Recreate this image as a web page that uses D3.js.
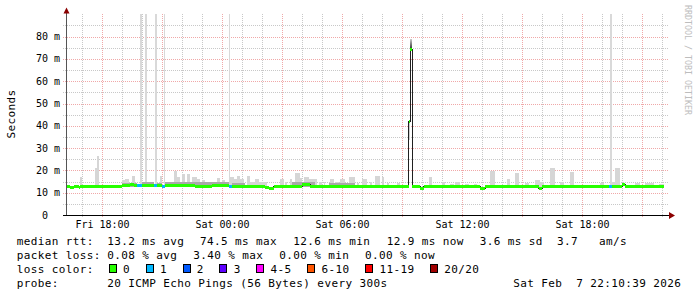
<!DOCTYPE html>
<html>
<head>
<meta charset="utf-8">
<script src="https://cdn.jsdelivr.net/npm/d3@7"></script>
<style>
  html, body { margin: 0; padding: 0; background: #fff; }
  svg { display: block; }
  text { font-family: "DejaVu Sans Mono", monospace; white-space: pre; }
</style>
</head>
<body>
<script>
// ---------- data (times are Fri 6 / Sat 7 Feb 2026, rtt in ms) ----------
const timeStart = "Fri 16:15"
const timeEnd = "Sat 22:15"
const dataEnd = "Sat 22:05"
const yMax = 90.6
const yMajor = [0, 10, 20, 30, 40, 50, 60, 70, 80]
const yMinor = [5, 15, 25, 35, 45, 55, 65, 75, 85]
const xLabels = ["Fri 18:00", "Sat 00:00", "Sat 06:00", "Sat 12:00", "Sat 18:00"]

// median rtt, step value holds until next entry
const medianSteps = [
  ["Fri 16:15", 12.9], ["Fri 16:25", 12.4], ["Fri 16:35", 12.9], ["Fri 16:50", 12.4], ["Fri 16:55", 12.9],
  ["Fri 19:00", 13.4], ["Fri 19:25", 13.9], ["Fri 19:35", 13.4], ["Fri 19:45", 13.6], ["Fri 20:00", 13.3],
  ["Fri 20:35", 13.6], ["Fri 20:45", 13.3], ["Fri 21:00", 13.0], ["Fri 21:10", 13.4], ["Fri 22:40", 13.2],
  ["Fri 23:30", 13.4], ["Sat 00:20", 13.0], ["Sat 00:30", 13.2], ["Sat 01:15", 13.0], ["Sat 02:10", 12.6],
  ["Sat 02:20", 12.2], ["Sat 02:35", 13.0], ["Sat 04:00", 14.1], ["Sat 04:10", 13.7], ["Sat 04:25", 12.8],
  ["Sat 07:30", 12.9], ["Sat 09:20", 42.0], ["Sat 09:25", 74.5], ["Sat 09:30", 12.9], ["Sat 09:55", 12.1],
  ["Sat 10:05", 12.8], ["Sat 12:55", 12.2], ["Sat 13:10", 12.8], ["Sat 15:50", 12.2], ["Sat 16:00", 12.8],
  ["Sat 20:00", 13.9], ["Sat 20:10", 12.9]
]

// periods with lost pings [from, to, lost count]
const lossRanges = [
  ["Fri 19:45", "Fri 20:00", 1], ["Fri 20:35", "Fri 20:45", 1], ["Fri 21:00", "Fri 21:10", 1],
  ["Sat 00:20", "Sat 00:30", 1], ["Sat 19:20", "Sat 19:30", 1]
]

// outer smoke (highest ping) [from, to, ms]
const smokeBars = [
  ["Fri 16:55", "Fri 17:00", 16.9], ["Fri 17:40", "Fri 17:45", 21.0], ["Fri 17:45", "Fri 17:50", 26.5],
  ["Fri 19:00", "Fri 19:10", 15.7], ["Fri 19:10", "Fri 19:20", 16.0], ["Fri 19:30", "Fri 19:40", 17.5],
  ["Fri 20:55", "Fri 21:00", 17.5], ["Fri 21:35", "Fri 21:45", 19.7], ["Fri 21:45", "Fri 21:55", 16.9],
  ["Fri 22:00", "Fri 22:10", 18.2], ["Fri 22:15", "Fri 22:25", 18.6], ["Fri 22:30", "Fri 22:45", 16.9],
  ["Fri 22:45", "Fri 22:55", 16.0], ["Fri 23:00", "Fri 23:10", 15.5], ["Fri 23:15", "Fri 23:35", 15.0],
  ["Fri 23:45", "Fri 23:55", 16.4], ["Sat 00:00", "Sat 00:10", 15.5], ["Sat 00:25", "Sat 00:35", 17.0],
  ["Sat 00:35", "Sat 00:45", 16.0], ["Sat 00:45", "Sat 00:55", 17.5], ["Sat 00:55", "Sat 01:05", 16.0],
  ["Sat 01:15", "Sat 01:25", 17.5], ["Sat 01:25", "Sat 01:40", 15.0], ["Sat 01:40", "Sat 01:50", 16.0],
  ["Sat 01:50", "Sat 02:15", 15.0], ["Sat 02:55", "Sat 03:05", 16.0], ["Sat 03:10", "Sat 03:15", 15.0],
  ["Sat 03:25", "Sat 03:30", 16.3], ["Sat 03:40", "Sat 03:55", 19.0], ["Sat 03:55", "Sat 04:00", 16.8],
  ["Sat 04:05", "Sat 04:20", 17.2], ["Sat 04:20", "Sat 04:45", 16.0], ["Sat 04:50", "Sat 05:00", 15.0],
  ["Sat 05:05", "Sat 05:10", 15.0], ["Sat 05:25", "Sat 05:35", 16.0], ["Sat 05:40", "Sat 05:50", 15.0],
  ["Sat 05:55", "Sat 06:10", 16.3], ["Sat 06:20", "Sat 06:40", 17.0], ["Sat 06:45", "Sat 06:50", 14.5],
  ["Sat 07:00", "Sat 07:15", 16.3], ["Sat 07:25", "Sat 07:30", 15.0], ["Sat 07:40", "Sat 07:55", 17.5],
  ["Sat 08:00", "Sat 08:05", 17.0], ["Sat 08:15", "Sat 08:20", 14.5], ["Sat 08:45", "Sat 08:55", 14.5],
  ["Sat 10:20", "Sat 10:30", 17.0], ["Sat 11:00", "Sat 11:10", 15.0], ["Sat 11:25", "Sat 11:35", 14.0],
  ["Sat 11:40", "Sat 11:55", 15.0], ["Sat 12:10", "Sat 12:20", 14.0], ["Sat 12:35", "Sat 12:45", 14.0],
  ["Sat 13:25", "Sat 13:40", 19.9], ["Sat 14:15", "Sat 14:25", 16.0], ["Sat 14:40", "Sat 14:50", 19.0],
  ["Sat 15:10", "Sat 15:20", 14.5], ["Sat 15:40", "Sat 15:55", 15.5], ["Sat 15:55", "Sat 16:05", 14.8],
  ["Sat 16:25", "Sat 16:40", 21.0], ["Sat 16:55", "Sat 17:05", 15.0], ["Sat 17:25", "Sat 17:35", 19.5],
  ["Sat 18:55", "Sat 19:05", 14.5], ["Sat 19:25", "Sat 19:40", 15.0], ["Sat 19:40", "Sat 19:55", 21.0],
  ["Sat 20:40", "Sat 20:55", 14.5], ["Sat 21:10", "Sat 21:35", 14.5], ["Sat 21:50", "Sat 22:05", 14.0]
]

// timeouts, max ping off the scale
const smokeTall = [
  ["Fri 19:55", "Fri 20:00", 95], ["Fri 20:10", "Fri 20:15", 95], ["Fri 20:40", "Fri 20:45", 95],
  ["Fri 21:05", "Fri 21:10", 95], ["Sat 00:20", "Sat 00:25", 95], ["Sat 19:25", "Sat 19:30", 95]
]

// inner (darker) smoke just above the median
const smokeInner = [
  ["Fri 19:00", "Fri 19:45", 14.5], ["Fri 20:00", "Fri 20:35", 14.6], ["Fri 20:45", "Fri 21:00", 14.4],
  ["Fri 21:10", "Sat 00:20", 14.6], ["Sat 00:30", "Sat 01:10", 14.4], ["Sat 03:30", "Sat 04:40", 14.7],
  ["Sat 05:20", "Sat 06:40", 14.3]
]

// smoke around the 09:20 spike [from, to, low, high]
const spikeSmokeLow = [["Sat 09:20", "Sat 09:25", 33.5, 42.0]]
const spikeSmokeHigh = [["Sat 09:25", "Sat 09:30", 74.5, 79.0]]

const lossLabels = ["0", "1", "2", "3", "4-5", "6-10", "11-19", "20/20"]
const lossColors = ["#26ff00", "#00b8ff", "#0059ff", "#5e00ff", "#ff00ff", "#ff5500", "#ff0000", "#a10000"]

const rttLegend = ["median rtt:", "13.2 ms avg", "74.5 ms max", "12.6 ms min", "12.9 ms now", "3.6 ms sd", "3.7   am/s"]
const lossLegend = ["packet loss:", "0.08 % avg", "3.40 % max", "0.00 % min", "0.00 % now"]
const probeLegend = ["probe:", "20 ICMP Echo Pings (56 Bytes) every 300s", "Sat Feb  7 22:10:39 2026"]

// ---------- helpers ----------
const parse = d3.timeParse("%Y-%m-%d %H:%M")
function t(s) {
  let [day, hm] = s.split(" ")
  return parse((day === "Fri" ? "2026-02-06 " : "2026-02-07 ") + hm)
}
function medianAt(s) {
  let d = t(s), v = medianSteps[0][1]
  medianSteps.forEach(m => { if (t(m[0]) <= d) v = m[1] })
  return v
}

// ---------- layout ----------
let plotLeft = 67, plotRight = 667, plotTop = 13, plotBottom = 215

let svg = d3.select("body").append("svg")
  .attr("width", 697)
  .attr("height", 297)

svg.append("rect").attr("width", 697).attr("height", 297).attr("fill", "#fff")

let x = d3.scaleTime()
  .domain([t(timeStart), t(timeEnd)])
  .range([plotLeft, plotRight])

let y = d3.scaleLinear()
  .domain([0, yMax])
  .range([plotBottom, plotTop])

let defs = svg.append("defs")
defs.append("clipPath").attr("id", "plot")
  .append("rect").attr("x", plotLeft).attr("y", 14).attr("width", 602).attr("height", plotBottom - 14)

// grid
let grid = svg.append("g").attr("shape-rendering", "crispEdges").attr("stroke-dasharray", "1,1")
let hours = d3.timeHour.range(t("Fri 17:00"), t(timeEnd))
grid.append("g").selectAll("line").data(hours.filter(h => h.getHours() % 3 !== 0)).join("line")
  .attr("x1", d => Math.round(x(d)) + 0.5).attr("x2", d => Math.round(x(d)) + 0.5)
  .attr("y1", 14).attr("y2", 218)
  .attr("stroke", "#c8c8c8")
grid.append("g").selectAll("line").data(yMinor).join("line")
  .attr("x1", 63).attr("x2", 668)
  .attr("y1", d => Math.round(y(d)) + 0.5).attr("y2", d => Math.round(y(d)) + 0.5)
  .attr("stroke", "#c8c8c8")
grid.append("g").selectAll("line").data(hours.filter(h => h.getHours() % 3 === 0)).join("line")
  .attr("x1", d => Math.round(x(d)) + 0.5).attr("x2", d => Math.round(x(d)) + 0.5)
  .attr("y1", 14).attr("y2", 218)
  .attr("stroke", "#f0a8a8")
grid.append("g").selectAll("line").data(yMajor.slice(1)).join("line")
  .attr("x1", 63).attr("x2", 668)
  .attr("y1", d => Math.round(y(d)) + 0.5).attr("y2", d => Math.round(y(d)) + 0.5)
  .attr("stroke", "#f0a8a8")

// smoke
let plot = svg.append("g").attr("clip-path", "url(#plot)").attr("shape-rendering", "crispEdges")

function bars(data, color) {
  plot.append("g").selectAll("rect").data(data).join("rect")
    .attr("x", d => x(t(d[0])))
    .attr("width", d => x(t(d[1])) - x(t(d[0])))
    .attr("y", d => y(d[2]))
    .attr("height", d => y(12.5) - y(d[2]))
    .attr("fill", color)
}
bars(smokeBars, "#d6d6d6")
bars(smokeTall, "#d9d9d9")
bars(smokeInner, "#a9a9a9")

let grad = defs.append("linearGradient").attr("id", "spk")
  .attr("x1", 0).attr("x2", 0).attr("y1", 0).attr("y2", 1)
grad.append("stop").attr("offset", "0%").attr("stop-color", "#d0d0d0")
grad.append("stop").attr("offset", "100%").attr("stop-color", "#303030")

plot.append("g").selectAll("rect").data(spikeSmokeLow).join("rect")
  .attr("x", d => x(t(d[0]))).attr("width", d => x(t(d[1])) - x(t(d[0])))
  .attr("y", d => y(d[3])).attr("height", d => y(d[2]) - y(d[3]))
  .attr("fill", "#cfcfcf")
plot.append("g").selectAll("rect").data(spikeSmokeHigh).join("rect")
  .attr("x", d => x(t(d[0]))).attr("width", d => x(t(d[1])) - x(t(d[0])))
  .attr("y", d => y(d[3])).attr("height", d => y(d[2]) - y(d[3]))
  .attr("fill", "url(#spk)")

// median line (black, under the coloured band)
let medPts = medianSteps.map(d => [t(d[0]), d[1]])
medPts.push([t(dataEnd), medianSteps[medianSteps.length - 1][1]])
plot.append("path")
  .datum(medPts)
  .attr("fill", "none")
  .attr("stroke", "#202020")
  .attr("stroke-width", 1)
  .attr("d", d3.line().curve(d3.curveStepAfter).x(d => x(d[0])).y(d => Math.round(y(d[1])) + 0.5))

// median band coloured by loss
let segs = medPts.slice(0, -1).map((d, i) => [d[0], medPts[i + 1][0], d[1]])
plot.append("g").selectAll("rect").data(segs).join("rect")
  .attr("x", d => x(d[0]))
  .attr("width", d => x(d[1]) - x(d[0]))
  .attr("y", d => Math.round(y(d[2])) - 1)
  .attr("height", 3)
  .attr("fill", lossColors[0])
plot.append("g").selectAll("rect").data(lossRanges).join("rect")
  .attr("x", d => x(t(d[0])))
  .attr("width", d => x(t(d[1])) - x(t(d[0])))
  .attr("y", d => Math.round(y(medianAt(d[0]))) - 1)
  .attr("height", 3)
  .attr("fill", d => lossColors[d[2]])

// axes
svg.append("line").attr("x1", 66.5).attr("x2", 66.5).attr("y1", 215).attr("y2", 12)
  .attr("stroke", "#555").attr("shape-rendering", "crispEdges")
svg.append("line").attr("x1", 63).attr("x2", 669).attr("y1", 215.5).attr("y2", 215.5)
  .attr("stroke", "#000").attr("shape-rendering", "crispEdges")
svg.append("path").attr("d", "M63.5,13.5 L69.5,13.5 L66.5,7.5 Z").attr("fill", "#8b0000")
svg.append("path").attr("d", "M669,212 L669,219 L675,215.5 Z").attr("fill", "#8b0000")

// y labels
svg.append("g").selectAll("text").data(yMajor).join("text")
  .attr("x", 60)
  .attr("y", d => y(d) + 3.5)
  .attr("text-anchor", "end")
  .attr("font-size", "10px")
  .text(d => d === 0 ? "0\u00a0\u00a0" : d + " m")

// x labels
svg.append("g").selectAll("text").data(xLabels).join("text")
  .attr("x", d => Math.round(x(t(d))) + 0.5)
  .attr("y", 228)
  .attr("text-anchor", "middle")
  .attr("font-size", "10px")
  .text(d => d)

// axis title + watermark
svg.append("text")
  .attr("transform", "translate(15,114) rotate(-90)")
  .attr("text-anchor", "middle")
  .attr("font-size", "11px")
  .attr("letter-spacing", "0.38px")
  .text("Seconds")
svg.append("text")
  .attr("transform", "translate(684.5,5) rotate(90)")
  .attr("font-size", "8.3px")
  .attr("fill", "#bdbdbd")
  .text("RRDTOOL / TOBI OETIKER")

// legend
let leg = svg.append("g").attr("font-size", "11px").attr("letter-spacing", "0.38px")
function row(items, xs, yy) {
  leg.append("g").selectAll("text").data(items).join("text")
    .attr("x", (d, i) => xs[i]).attr("y", yy).text(d => d)
}
row(rttLegend, [16.7, 107.3, 200, 293.3, 386.7, 479.7, 557], 245.3)
row(lossLegend, [16.7, 107.3, 193.3, 279.3, 365], 259.2)
row(["loss color:"], [16.7], 273.1)
row(probeLegend, [16.7, 107.3, 513.3], 287)

let bx = 108.7
lossLabels.forEach((lab, i) => {
  leg.append("rect")
    .attr("x", Math.round(bx) + 0.5).attr("y", 264.5)
    .attr("width", 7).attr("height", 8)
    .attr("fill", lossColors[i]).attr("stroke", "#000")
    .attr("shape-rendering", "crispEdges")
  leg.append("text").attr("x", bx + 14.3).attr("y", 273.1).text(lab)
  bx = bx + 14.3 + lab.length * 7 + 15.6
})
</script>
</body>
</html>
